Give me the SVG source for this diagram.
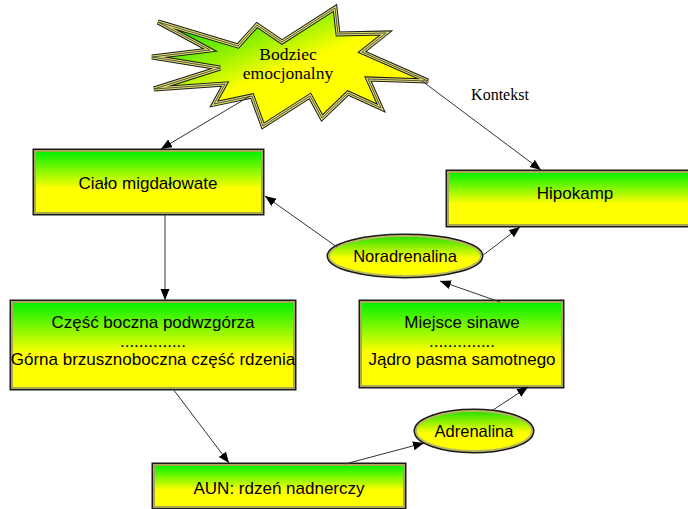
<svg xmlns="http://www.w3.org/2000/svg" width="688" height="509" viewBox="0 0 688 509">
<defs>
<linearGradient id="gBox" x1="0" y1="0" x2="0" y2="1">
<stop offset="0" stop-color="#00f000"/>
<stop offset="0.6" stop-color="#ffff00"/>
<stop offset="1" stop-color="#ffff00"/>
</linearGradient>
<linearGradient id="gEll" x1="0" y1="0" x2="0" y2="1">
<stop offset="0" stop-color="#22e000"/>
<stop offset="0.55" stop-color="#ffff00"/>
<stop offset="1" stop-color="#ffff00"/>
</linearGradient>
<linearGradient id="gStar" gradientUnits="userSpaceOnUse" x1="200" y1="10" x2="240" y2="110">
<stop offset="0" stop-color="#00e000"/>
<stop offset="0.8" stop-color="#ffff00"/>
<stop offset="1" stop-color="#ffff00"/>
</linearGradient>
<polygon id="starShape" points="158,22 238,46 257,25 282,42 335,8 338,34 386,33 362,52 428,81 368,79 381,108 348,93 322,118 310,96 263,126 252,96 214,104 225,84 154,89 220,68 152,57 210,50"/>
<marker id="arr" markerUnits="userSpaceOnUse" markerWidth="12" markerHeight="10" refX="11" refY="4.5" orient="auto">
<path d="M0,0 L11,4.5 L0,9 z" fill="#000"/>
</marker>
</defs>
<style>
.bo{fill:none;stroke:#1a1a1a;stroke-width:5}
.bi{fill:url(#gBox);stroke:#a8a855;stroke-width:2}
.eo{fill:none;stroke:#1a1a1a;stroke-width:5}
.ei{fill:url(#gEll);stroke:#b8b860;stroke-width:2}
.t{font-family:"Liberation Sans",Arial,sans-serif;font-size:17px;fill:#000;text-anchor:middle}
.te{font-family:"Liberation Sans",Arial,sans-serif;font-size:16.5px;fill:#000;text-anchor:middle}
.ts{font-family:"Liberation Serif","Times New Roman",serif;font-size:17.5px;fill:#000;text-anchor:middle}
.c{fill:none;stroke:#333;stroke-width:1;marker-end:url(#arr)}
</style>

<g id="bodziec">
<use href="#starShape" fill="url(#gStar)" stroke="none"/>
<use href="#starShape" fill="none" stroke="#1a1a1a" stroke-width="5"/>
<use href="#starShape" fill="none" stroke="#e0e070" stroke-width="3"/>
<use href="#starShape" fill="none" stroke="#333" stroke-width="0.8"/>
<text class="ts" x="288" y="60">Bodziec</text>
<text class="ts" x="288" y="79">emocjonalny</text>
</g>

<g id="cialo">
<rect class="bo" x="35" y="151" width="227" height="62"/>
<rect class="bi" x="35" y="151" width="227" height="62"/>
<text class="t" x="148" y="189">Ciało migdałowate</text>
</g>

<g id="hipokamp">
<rect class="bo" x="448" y="172" width="256" height="53"/>
<rect class="bi" x="448" y="172" width="256" height="53"/>
<text class="t" x="575" y="199">Hipokamp</text>
</g>

<g id="noradrenalina">
<ellipse class="eo" cx="405" cy="256" rx="76" ry="20"/>
<ellipse class="ei" cx="405" cy="256" rx="76" ry="20"/>
<text class="te" x="405" y="262">Noradrenalina</text>
</g>

<g id="czesc">
<rect class="bo" x="12" y="302" width="282" height="86"/>
<rect class="bi" x="12" y="302" width="282" height="86"/>
<text class="t" x="153" y="328">Część boczna podwzgórza</text>
<text class="t" x="153" y="347">..............</text>
<text class="t" x="153" y="365">Górna brzusznoboczna część rdzenia</text>
</g>

<g id="miejsce">
<rect class="bo" x="361" y="302" width="201" height="84"/>
<rect class="bi" x="361" y="302" width="201" height="84"/>
<text class="t" x="462" y="328">Miejsce sinawe</text>
<text class="t" x="462" y="347">..............</text>
<text class="t" x="462" y="365">Jądro pasma samotnego</text>
</g>

<g id="adrenalina">
<ellipse class="eo" cx="474" cy="431" rx="58" ry="20"/>
<ellipse class="ei" cx="474" cy="431" rx="58" ry="20"/>
<text class="te" x="474" y="437">Adrenalina</text>
</g>

<g id="aun">
<rect class="bo" x="154" y="465" width="250" height="42"/>
<rect class="bi" x="154" y="465" width="250" height="42"/>
<text class="t" x="279" y="494">AUN: rdzeń nadnerczy</text>
</g>

<g id="kontekst">
<text class="ts" x="500" y="100" style="font-size:16px">Kontekst</text>
</g>

<g id="connectors">
<path class="c" d="M250,96 L161,149"/>
<path class="c" d="M422,81 L541,170"/>
<path class="c" d="M165,214 L165,300"/>
<path class="c" d="M173,389 L229,463"/>
<path class="c" d="M345,464 L424,443"/>
<path class="c" d="M493,410 L528,387"/>
<path class="c" d="M500,302 L440,281"/>
<path class="c" d="M482,256 L520,227"/>
<path class="c" d="M337,247 L265,196"/>
</g>
</svg>
